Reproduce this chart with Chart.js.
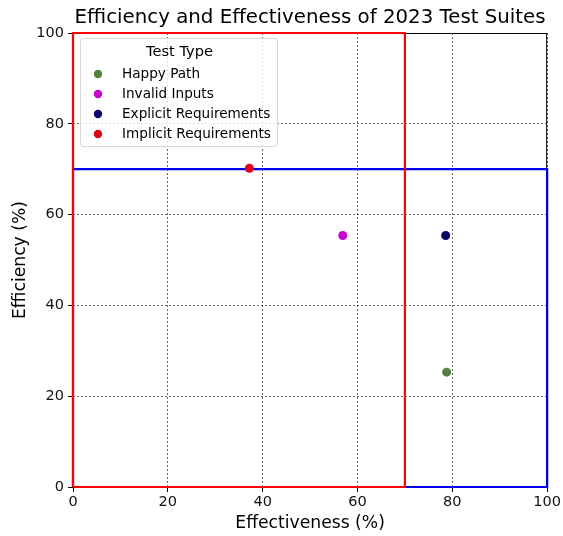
<!DOCTYPE html>
<html>
<head>
<meta charset="utf-8">
<script src="https://cdn.jsdelivr.net/npm/chart.js@4.4.0/dist/chart.umd.min.js"></script>
<style>
  html, body { margin: 0; padding: 0; background: #fff; }
  #wrap { width: 563px; height: 536px; }
</style>
</head>
<body>
<div id="wrap"><canvas id="c" width="563" height="536"></canvas></div>
<script>
// Test suite measurements
const testTypes = ['Happy Path', 'Invalid Inputs', 'Explicit Requirements', 'Implicit Requirements'];
const effectiveness = [78.8, 56.9, 78.6, 37.2];
const efficiency = [25.3, 55.4, 55.4, 70.2];
const pointColors = ['#557f3c', '#cc00cc', '#06066b', '#e00018'];

// Target thresholds (percent)
const effectivenessTarget = 70;
const efficiencyTarget = 70;
const axisTicks = [0, 20, 40, 60, 80, 100];

const FONT = "'DejaVu Sans', sans-serif";

const pointSets = testTypes.map((name, i) => ({
  label: name,
  data: [{ x: effectiveness[i], y: efficiency[i] }],
  backgroundColor: pointColors[i],
  borderColor: pointColors[i],
  pointRadius: 4.5,
  pointHoverRadius: 4.5,
  borderWidth: 0,
  order: 0
}));

function rect(x0, x1, y0, y1) {
  return [{ x: x0, y: y0 }, { x: x1, y: y0 }, { x: x1, y: y1 }, { x: x0, y: y1 }, { x: x0, y: y0 }];
}

const regionSets = [
  {
    label: 'efficiency band',
    data: rect(0, 100, 0, efficiencyTarget),
    showLine: true, borderColor: '#0000ee', borderWidth: 2.2,
    pointRadius: 0, fill: false, clip: false, order: 2, isRegion: true
  },
  {
    label: 'effectiveness band',
    data: rect(0, effectivenessTarget, 0, 100),
    showLine: true, borderColor: '#ff0000', borderWidth: 2.2,
    pointRadius: 0, fill: false, clip: false, order: 1, isRegion: true
  }
];

// Title, axis titles and the in-plot legend
const decorations = {
  id: 'decorations',
  afterDraw(chart) {
    const { ctx, chartArea: a } = chart;
    ctx.save();
    ctx.fillStyle = '#000';
    ctx.textAlign = 'center';
    ctx.textBaseline = 'middle';
    ctx.font = `19.8px ${FONT}`;
    ctx.fillText('Efficiency and Effectiveness of 2023 Test Suites', (a.left + a.right) / 2, 18);
    ctx.font = `17.2px ${FONT}`;
    ctx.fillText('Effectiveness (%)', (a.left + a.right) / 2, 524);
    ctx.save();
    ctx.translate(21, (a.top + a.bottom) / 2);
    ctx.rotate(-Math.PI / 2);
    ctx.fillText('Efficiency (%)', 0, 0);
    ctx.restore();

    // legend box
    const bx = a.left + 7, by = a.top + 5, bw = 197, bh = 108;
    ctx.fillStyle = 'rgba(255,255,255,0.8)';
    ctx.strokeStyle = '#d6d6d6';
    ctx.lineWidth = 1;
    ctx.beginPath();
    if (ctx.roundRect) ctx.roundRect(bx + 0.5, by + 0.5, bw, bh, 3); else ctx.rect(bx + 0.5, by + 0.5, bw, bh);
    ctx.fill();
    ctx.stroke();
    ctx.fillStyle = '#000';
    ctx.font = `14.6px ${FONT}`;
    ctx.textAlign = 'center';
    ctx.fillText('Test Type', bx + bw / 2 + 1, by + 14);
    ctx.font = `13.6px ${FONT}`;
    ctx.textAlign = 'left';
    chart.data.datasets.forEach((ds, i) => {
      if (ds.isRegion) return;
      const yy = by + 36 + i * 20;
      ctx.fillStyle = ds.backgroundColor;
      ctx.beginPath();
      ctx.arc(bx + 18, yy, 4.2, 0, Math.PI * 2);
      ctx.fill();
      ctx.fillStyle = '#000';
      ctx.fillText(ds.label, bx + 42, yy);
    });
    ctx.restore();
  }
};

const gridCommon = {
  color: 'rgba(0,0,0,0.75)',
  lineWidth: 0.8,
  tickColor: '#000',
  tickLength: 5,
  tickWidth: 1,
  tickBorderDash: [],
  drawTicks: true
};

new Chart(document.getElementById('c'), {
  type: 'scatter',
  data: { datasets: [...pointSets, ...regionSets] },
  options: {
    responsive: false,
    animation: false,
    devicePixelRatio: 1,
    layout: { padding: { top: 33, right: 15, left: 0, bottom: 0 } },
    plugins: { legend: { display: false }, title: { display: false }, tooltip: { enabled: false } },
    scales: {
      x: {
        type: 'linear', min: 0, max: 100,
        afterBuildTicks(s) { s.ticks = axisTicks.map(v => ({ value: v })); },
        afterFit(s) { s.height = 49; },
        grid: gridCommon,
        border: { display: false, dash: [2, 2] },
        ticks: { color: '#111', font: { family: FONT, size: 14.5 }, padding: 2, maxRotation: 0 }
      },
      y: {
        type: 'linear', min: 0, max: 100,
        afterBuildTicks(s) { s.ticks = axisTicks.map(v => ({ value: v })); },
        afterFit(s) { s.width = 73; },
        grid: gridCommon,
        border: { display: false, dash: [2, 2] },
        ticks: { color: '#111', font: { family: FONT, size: 14.5 }, padding: 4 }
      }
    }
  },
  plugins: [decorations, {
    id: 'frame',
    beforeDatasetsDraw(chart) {
      const { ctx, chartArea: a } = chart;
      ctx.save();
      ctx.strokeStyle = '#000';
      ctx.lineWidth = 1;
      ctx.strokeRect(a.left + 0.5, a.top + 0.5, a.right - a.left - 1, a.bottom - a.top - 1);
      ctx.restore();
    }
  }]
});
</script>
</body>
</html>
